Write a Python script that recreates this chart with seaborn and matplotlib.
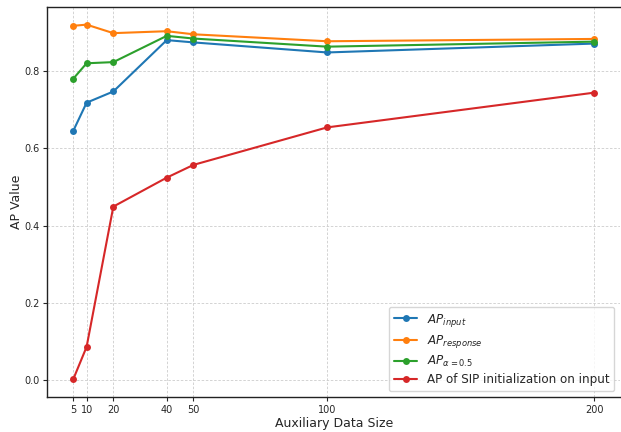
import matplotlib
matplotlib.use("Agg")
import matplotlib.pyplot as plt
import seaborn as sns

sizes = [5, 10, 20, 40, 50, 100, 200]
ap_input = [0.645, 0.718, 0.747, 0.880, 0.874, 0.848, 0.871]
ap_response = [0.917, 0.920, 0.898, 0.903, 0.895, 0.877, 0.883]
ap_alpha = [0.780, 0.820, 0.823, 0.891, 0.884, 0.863, 0.876]
ap_sip = [0.002, 0.086, 0.449, 0.524, 0.557, 0.654, 0.744]

series = [
    (ap_input, r"$AP_{input}$", "#1f77b4"),
    (ap_response, r"$AP_{response}$", "#ff7f0e"),
    (ap_alpha, r"$AP_{\alpha=0.5}$", "#2ca02c"),
    (ap_sip, "AP of SIP initialization on input", "#d62728"),
]

sns.set_style("ticks")
fig, ax = plt.subplots(figsize=(6.21, 4.32), dpi=100)
fig.subplots_adjust(left=0.076, right=0.999, top=0.984, bottom=0.081)

for vals, label, color in series:
    sns.lineplot(x=sizes, y=vals, ax=ax, marker="o", markersize=5,
                 markeredgewidth=0, color=color, label=label, linewidth=1.5)

ax.set_xticks(sizes)
ax.grid(True, linestyle=(0, (3, 2)), color="#cccccc", linewidth=0.6)
ax.tick_params(labelsize=7, length=3, pad=2.5)
ax.set_xlabel("Auxiliary Data Size", fontsize=9, labelpad=2)
ax.set_ylabel("AP Value", fontsize=9, labelpad=1)
ax.spines["right"].set_visible(False)
for s in ["left", "top", "bottom"]:
    ax.spines[s].set_linewidth(1.0)
    ax.spines[s].set_color("#222222")
ax.legend(loc="lower right", fontsize=8.6, framealpha=0.8,
          labelspacing=0.35, handlelength=2.0, borderpad=0.4)

fig.savefig("out.png", dpi=100)
